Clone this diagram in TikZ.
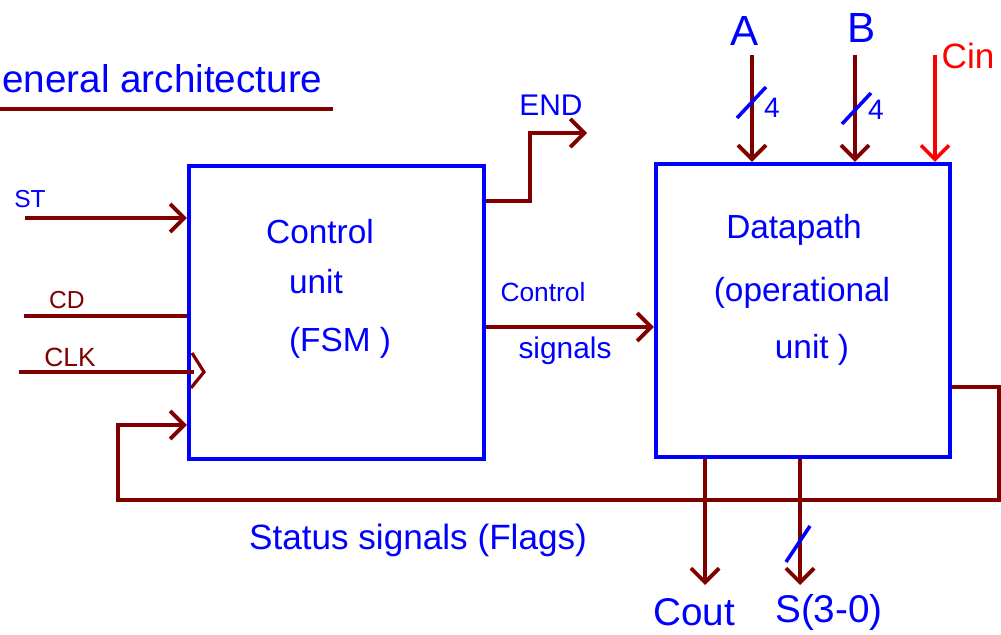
\documentclass[tikz,border=0pt]{standalone}
\usepackage{fontspec}
\setmainfont{Liberation Sans}
\usetikzlibrary{arrows.meta,calc}
\definecolor{wire}{RGB}{128,0,0}
\definecolor{pen}{RGB}{0,0,255}
\definecolor{cinred}{RGB}{255,0,0}

\begin{document}
\begin{tikzpicture}[x=0.02cm, y=-0.02cm, >={Straight Barb[length=8pt, width=16pt]}]
  \tikzset{
    wire/.style={draw=wire, line width=2.2pt},
    unitbox/.style={draw=pen, line width=2.4pt, minimum width=5.9cm, minimum height=5.86cm, inner sep=0pt},
    pentext/.style={text=pen, inner sep=0pt},
    wiretext/.style={text=wire, inner sep=0pt},
  }
  % page = 1001 x 635 px, 1 px = 0.02 cm, y grows downwards
  \useasboundingbox (0,0) rectangle (1001,635);
  \clip (0,0) rectangle (1001,635);

  % Title
  \node[pentext, font=\fontsize{22}{26}\selectfont, anchor=base west] (title) at (2,92) {eneral architecture};
  \draw[wire, line width=1.8pt] (0,109) -- (333,109);

  % The two units
  \node[unitbox] (cu) at (336.5,312.5) {};
  \node[unitbox, minimum width=5.88cm] (dp) at (803,310.5) {};

  \node[pentext, font=\fontsize{19}{22}\selectfont] (cul1) at (320,232) {Control};
  \node[pentext, font=\fontsize{19}{22}\selectfont] (cul2) at (316,282) {unit};
  \node[pentext, font=\fontsize{19}{22}\selectfont] (cul3) at (340,343) {(FSM )};
  \node[pentext, font=\fontsize{19}{22}\selectfont] (dpl1) at (794,230) {Datapath};
  \node[pentext, font=\fontsize{19}{22}\selectfont] (dpl2) at (802,293) {(operational};
  \node[pentext, font=\fontsize{19}{22}\selectfont] (dpl3) at (812,350) {unit )};

  % Inputs of the control unit
  \coordinate (st) at (25,218);
  \coordinate (cd) at (24,316);
  \coordinate (clk) at (19,372);
  \node[pentext, font=\fontsize{14}{16}\selectfont] (stl) at (30,199) {ST};
  \node[wiretext, font=\fontsize{14}{16}\selectfont] (cdl) at (67,300) {CD};
  \node[wiretext, font=\fontsize{15}{17}\selectfont] (clkl) at (70,357) {CLK};
  \draw[wire, ->] (st) -- (st -| cu.west);
  \draw[wire] (cd) -- (cd -| cu.west);
  \draw[wire] (clk) -- ($(clk -| cu.west)+(7,0)$);
  \draw[wire, line width=1.8pt] (192,353) -- (204,372) -- (191,388);

  % END
  \coordinate (endc) at (587,133);
  \node[pentext, font=\fontsize{17}{20}\selectfont] (endl) at (551,105) {END};
  \draw[wire, ->] (cu.east |- 0,201) -- (530,201) -- (530,133) -- (endc);

  % Control signals
  \draw[wire, ->] (cu.east |- 0,327) -- (dp.west |- 0,327);
  \node[pentext, font=\fontsize{15}{18}\selectfont] (ctll) at (543,292) {Control};
  \node[pentext, font=\fontsize{17}{20}\selectfont] (sigl) at (565,351) {signals};

  % Data inputs A, B and carry in
  \node[pentext, font=\fontsize{24}{28}\selectfont] (a) at (745,31) {A};
  \node[pentext, font=\fontsize{24}{28}\selectfont] (b) at (862,28) {B};
  \node[text=cinred, inner sep=0pt, font=\fontsize{20}{24}\selectfont] (cin) at (968,56) {Cin};
  \coordinate (atop) at (752,55);
  \coordinate (btop) at (855,55);
  \coordinate (cintop) at (935,55);
  \draw[wire, ->] (atop) -- (atop |- dp.north);
  \draw[wire, ->] (btop) -- (btop |- dp.north);
  \draw[cinred, line width=2pt, ->] (cintop) -- (cintop |- dp.north);
  \draw[pen, line width=2pt] (737,118) -- (766,87);
  \draw[pen, line width=2pt] (842,124) -- (871,93);
  \node[pentext, font=\fontsize{16}{18}\selectfont] (aw) at (772,108) {4};
  \node[pentext, font=\fontsize{16}{18}\selectfont] (bw) at (876,110) {4};

  % Outputs
  \coordinate (cout) at (705,585);
  \coordinate (sout) at (800,585);
  \draw[wire, ->] (cout |- dp.south) -- (cout);
  \draw[wire, ->] (sout |- dp.south) -- (sout);
  \draw[pen, line width=2pt] (786,562) -- (810,526);
  \node[pentext, font=\fontsize{22}{26}\selectfont] (coutl) at (694,612) {Cout};
  \node[pentext, font=\fontsize{22}{26}\selectfont] (soutl) at (829,612) {S(3-0)};

  % Status signals fed back to the control unit
  \coordinate (fbr) at (999,387);
  \coordinate (fbl) at (118,425);
  \coordinate (fbbot) at (0,500);
  \draw[wire, ->] (dp.east |- fbr) -- (fbr) -- (fbr |- fbbot) -- (fbl |- fbbot) -- (fbl) -- (cu.west |- fbl);
  \node[pentext, font=\fontsize{20}{24}\selectfont] (statl) at (418,540) {Status signals (Flags)};
\end{tikzpicture}
\end{document}
